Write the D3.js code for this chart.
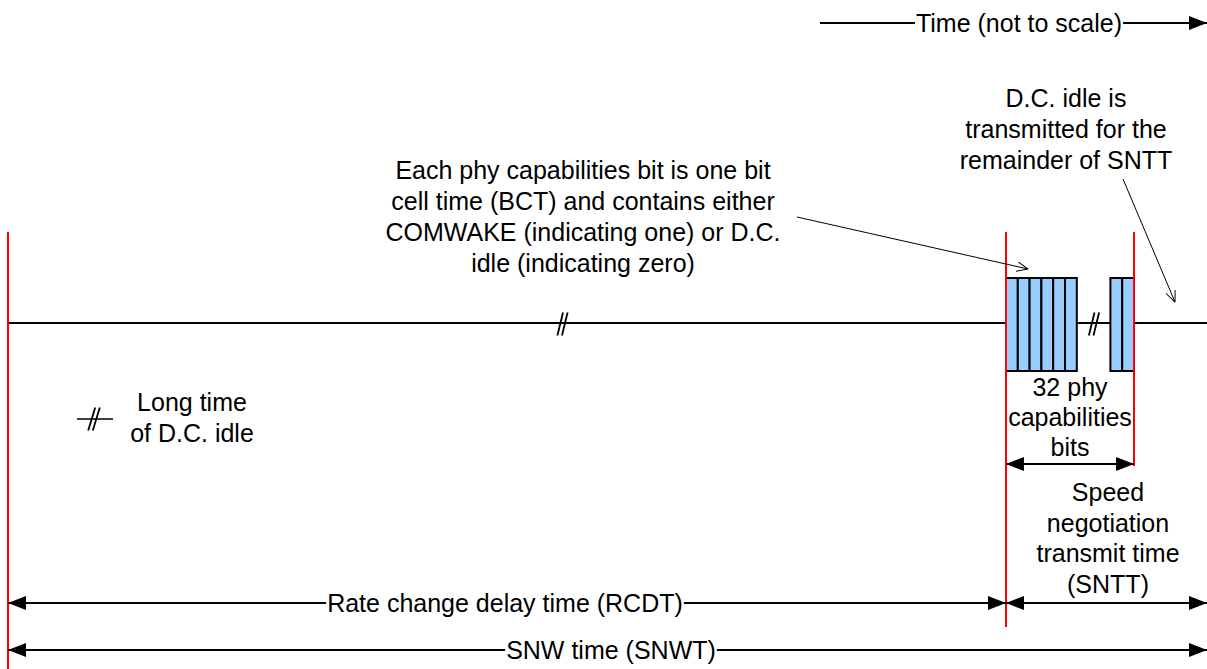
<!DOCTYPE html>
<html>
<head>
<meta charset="utf-8">
<script src="https://cdn.jsdelivr.net/npm/d3@7"></script>
<style>
  html, body { margin: 0; padding: 0; background: #fff; }
  text { font-family: "Liberation Sans", Arial, sans-serif; font-size: 25px; fill: #000; }
</style>
</head>
<body>
<div id="chart"></div>
<script>
// time axis, in diagram units (not to scale)
const tStart = 0, tRcdtEnd = 998, tBitsEnd = 1126, tEnd = 1199;
// bit cell groups: number of bits in each group
const bitGroups = [{ count: 6 }, { count: 2 }];
const bitWidth = 11.8;
// "long time" break marks on the timeline
const breakMarks = [554.5, 1086];
// red markers
const markers = [
    { t: tStart, y2: 669 },
    { t: tRcdtEnd, y2: 627 },
    { t: tBitsEnd, y2: 466 }
];
// spans (double headed arrows)
const spans = [
    { from: tRcdtEnd, to: tBitsEnd, y: 464, label: null, cx: 0 },
    { from: tStart, to: tRcdtEnd, y: 603, label: 'Rate change delay time (RCDT)', cx: 505 },
    { from: tRcdtEnd, to: tEnd, y: 603, label: null, cx: 0 },
    { from: tStart, to: tEnd, y: 650, label: 'SNW time (SNWT)', cx: 611 }
];
// notes
const noteBits = ['Each phy capabilities bit is one bit', 'cell time (BCT) and contains either',
    'COMWAKE (indicating one) or D.C.', 'idle (indicating zero)'];
const noteIdle = ['D.C. idle is', 'transmitted for the', 'remainder of SNTT'];
const noteCount = ['32 phy', 'capabilities', 'bits'];
const noteSntt = ['Speed', 'negotiation', 'transmit time', '(SNTT)'];
const noteLegend = ['Long time', 'of D.C. idle'];
const timeTitle = 'Time (not to scale)';

const W = 1207, H = 669;
const lineY = 323;
let x = d3.scaleLinear().domain([tStart, tEnd]).range([8, W]);

let svg = d3.select('#chart').append('svg')
    .attr('width', W).attr('height', H);

let defs = svg.append('defs');
// filled arrow head
defs.append('marker').attr('id', 'solid')
    .attr('viewBox', '0 0 18 14').attr('refX', 18).attr('refY', 7)
    .attr('markerWidth', 18).attr('markerHeight', 14)
    .attr('markerUnits', 'userSpaceOnUse').attr('orient', 'auto-start-reverse')
    .append('path').attr('d', 'M0,0 L18,7 L0,14 Z').attr('fill', '#000');
// open arrow head for notes
defs.append('marker').attr('id', 'open')
    .attr('viewBox', '0 0 12 10').attr('refX', 11.5).attr('refY', 5)
    .attr('markerWidth', 12).attr('markerHeight', 10)
    .attr('markerUnits', 'userSpaceOnUse').attr('orient', 'auto')
    .append('path').attr('d', 'M0,0 L11.5,5 L0,10').attr('fill', 'none')
    .attr('stroke', '#000').attr('stroke-width', 1);

//多行文本
let multiline = function (lines, cx, cy, step) {
    let g = svg.append('g');
    g.selectAll('text').data(lines).enter().append('text')
        .attr('x', cx)
        .attr('y', (d, i) => cy + i * step)
        .attr('text-anchor', 'middle')
        .attr('dominant-baseline', 'central')
        .text(d => d);
    return g;
};

// line with a label sitting in a gap
let labelledLine = function (x1, x2, y, label, cx, markerStart, markerEnd) {
    let g = svg.append('g');
    let pieces = [[x1, x2]];
    if (label) {
        let t = g.append('text').attr('x', cx).attr('y', y)
            .attr('text-anchor', 'middle').attr('dominant-baseline', 'central')
            .text(label);
        let w = t.node().getComputedTextLength();
        pieces = [[x1, cx - w / 2 - 1], [cx + w / 2 + 1, x2]];
    }
    pieces.forEach((p, i) => {
        let l = g.append('line')
            .attr('x1', p[0]).attr('x2', p[1]).attr('y1', y).attr('y2', y)
            .attr('stroke', '#000').attr('stroke-width', 2);
        if (i === 0 && markerStart) l.attr('marker-start', 'url(#solid)');
        if (i === pieces.length - 1 && markerEnd) l.attr('marker-end', 'url(#solid)');
    });
};

// break symbol //
let breakSymbol = function (cx, cy, h, lean) {
    [-2.3, 2.3].forEach(dx => {
        svg.append('line')
            .attr('x1', cx + dx + lean).attr('y1', cy - h / 2)
            .attr('x2', cx + dx - lean).attr('y2', cy + h / 2)
            .attr('stroke', '#000').attr('stroke-width', 1.8);
    });
};

// timeline
svg.append('line').attr('x1', x(tStart)).attr('x2', x(tEnd)).attr('y1', lineY).attr('y2', lineY)
    .attr('stroke', '#000').attr('stroke-width', 2);

// bit cells
let bitGroupStarts = [tRcdtEnd, tBitsEnd - bitGroups[1].count * bitWidth];
bitGroups.forEach((grp, gi) => {
    let cells = d3.range(grp.count).map(i => bitGroupStarts[gi] + i * bitWidth);
    svg.append('g').selectAll('rect').data(cells).enter().append('rect')
        .attr('x', d => x(d))
        .attr('y', 278)
        .attr('width', d => x(d + bitWidth) - x(d))
        .attr('height', 93)
        .attr('fill', '#99ccff')
        .attr('stroke', '#000')
        .attr('stroke-width', 2);
});

breakMarks.forEach(t => breakSymbol(x(t), lineY + 1, 23, 2.8));

// red markers
svg.append('g').selectAll('line').data(markers).enter().append('line')
    .attr('x1', d => x(d.t)).attr('x2', d => x(d.t))
    .attr('y1', 232).attr('y2', d => d.y2)
    .attr('stroke', '#ff0000').attr('stroke-width', 2);

// spans
spans.forEach(s => labelledLine(x(s.from), x(s.to), s.y, s.label, s.cx, true, true));

// time arrow on top
labelledLine(820, W, 23, timeTitle, 1019, false, true);

// notes
multiline(noteBits, 583, 170, 31);
multiline(noteIdle, 1066, 98, 31);
multiline(noteCount, 1070, 387, 30);
multiline(noteSntt, 1108, 492, 30.5);
multiline(noteLegend, 192, 402, 31);

// note arrows
svg.append('line').attr('x1', 797).attr('y1', 217).attr('x2', 1028).attr('y2', 269)
    .attr('stroke', '#000').attr('stroke-width', 1).attr('marker-end', 'url(#open)');
svg.append('line').attr('x1', 1123).attr('y1', 179).attr('x2', 1175).attr('y2', 302)
    .attr('stroke', '#000').attr('stroke-width', 1).attr('marker-end', 'url(#open)');

// legend break symbol
svg.append('line').attr('x1', 77).attr('x2', 113).attr('y1', 419).attr('y2', 419)
    .attr('stroke', '#000').attr('stroke-width', 1.6);
breakSymbol(94, 419, 23, 3.5);
</script>
</body>
</html>
